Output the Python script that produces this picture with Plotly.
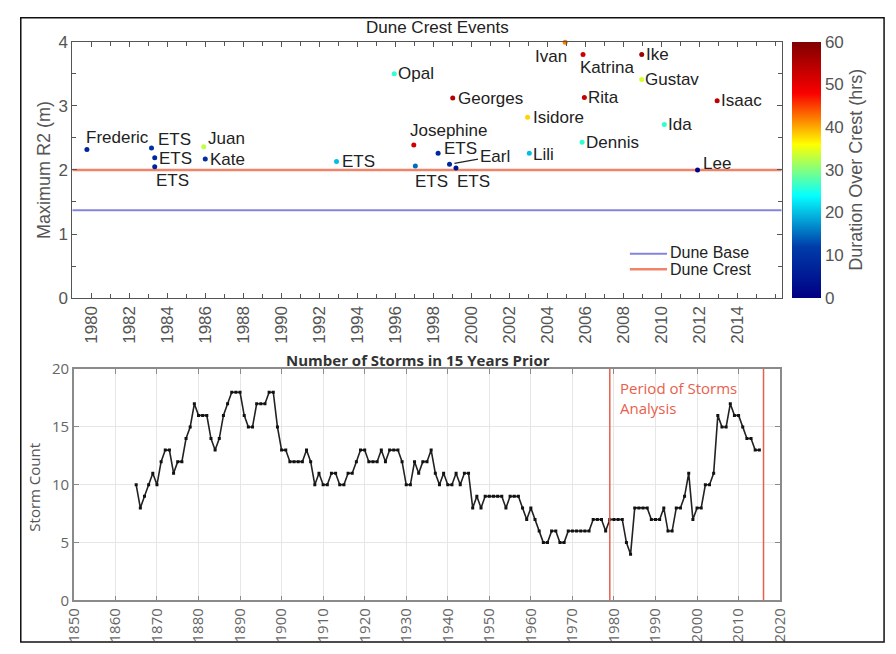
import plotly.graph_objects as go

W, H = 896, 654

# ---- Dune crest events (top panel) ----
event_names = ["Frederic", "ETS", "ETS", "ETS", "Juan", "Kate", "ETS", "Opal",
               "Josephine", "ETS", "ETS", "Earl", "Georges", "ETS", "Isidore",
               "Lili", "Ivan", "Katrina", "Rita", "Dennis", "Ike", "Gustav",
               "Ida", "Lee", "Isaac"]
event_time = [1979.77, 1983.17, 1983.34, 1983.34, 1985.92, 1986.00, 1992.91,
              1995.95, 1996.98, 1997.06, 1998.26, 1998.86, 1999.03, 1999.20,
              2002.97, 2003.06, 2004.95, 2005.89, 2005.96, 2005.84, 2008.98,
              2008.98, 2010.17, 2011.92, 2012.95]
max_r2 = [2.32, 2.34, 2.19, 2.05, 2.36, 2.17, 2.13, 3.50, 2.39, 2.06, 2.26,
          2.09, 3.12, 2.03, 2.82, 2.26, 3.99, 3.80, 3.13, 2.43, 3.80, 3.41,
          2.71, 2.00, 3.08]
duration_hrs = [7, 10, 8, 7, 33, 9, 20, 26, 52, 15, 8, 8, 55, 4, 38, 20, 42,
                52, 53, 26, 57, 34, 26, 1, 54]
dune_base = 1.37
dune_crest = 2.0
year_ticks = list(range(1980, 2015, 2))

# ---- Storms in the 15 years prior (bottom panel) ----
count_years = list(range(1865, 2016))
storm_count = [
    10, 8, 9, 10, 11, 10, 12, 13, 13, 11,      # 1865-1874
    12, 12, 14, 15, 17, 16, 16, 16, 14, 13,    # 1875-1884
    14, 16, 17, 18, 18, 18, 16, 15, 15, 17,    # 1885-1894
    17, 17, 18, 18, 15, 13, 13, 12, 12, 12,    # 1895-1904
    12, 13, 12, 10, 11, 10, 10, 11, 11, 10,    # 1905-1914
    10, 11, 11, 12, 13, 13, 12, 12, 12, 13,    # 1915-1924
    12, 13, 13, 13, 12, 10, 10, 12, 11, 12,    # 1925-1934
    12, 13, 11, 10, 11, 10, 10, 11, 10, 11,    # 1935-1944
    11, 8, 9, 8, 9, 9, 9, 9, 9, 8,             # 1945-1954
    9, 9, 9, 8, 7, 8, 7, 6, 5, 5,              # 1955-1964
    6, 6, 5, 5, 6, 6, 6, 6, 6, 6,              # 1965-1974
    7, 7, 7, 6, 7, 7, 7, 7, 5, 4,              # 1975-1984
    8, 8, 8, 8, 7, 7, 7, 8, 6, 6,              # 1985-1994
    8, 8, 9, 11, 7, 8, 8, 10, 10, 11,          # 1995-2004
    16, 15, 15, 17, 16, 16, 15, 14, 14, 13,    # 2005-2014
    13,                                        # 2015
]
period_start, period_end = 1979, 2016

# label placement around each event marker: (anchor, x shift px, y shift px)
label_place = [
    ("left", -2, 12), ("left", 5, 9), ("left", 3, -1), ("left", 0, -14),
    ("left", 3, 8), ("left", 4, 0), ("left", 4, 0), ("left", 3, 0),
    ("left", -5, 14), ("left", -1, -15), ("left", 5, 5), None,
    ("left", 4, 0), ("left", 0, -13), ("left", 4, 0), ("left", 3, -1),
    ("right", 3, -14), ("left", -4, -13), ("left", 3, 0), ("left", 3, 0),
    ("left", 3, 0), ("left", 2, 0), ("left", 3, 0), ("left", 4, 6),
    ("left", 3, 0),
]

TOP_FONT = "Liberation Sans, Arial, sans-serif"
BOT_FONT = "Open Sans, sans-serif"
BASE_COLOR = "#8583dc"
CREST_COLOR = "#f0846a"
RED = "#e8604c"
LABEL_SIZE = 17


def px(xp):
    return xp / W


def py(yp):
    return 1 - yp / H


fig = go.Figure()

x_top = [1979, 2016.35]
fig.add_trace(go.Scatter(x=x_top, y=[dune_base, dune_base], mode="lines",
                         line=dict(color=BASE_COLOR, width=2),
                         xaxis="x", yaxis="y", showlegend=False, hoverinfo="skip"))
fig.add_trace(go.Scatter(x=x_top, y=[dune_crest, dune_crest], mode="lines",
                         line=dict(color=CREST_COLOR, width=2.5),
                         xaxis="x", yaxis="y", showlegend=False, hoverinfo="skip"))

fig.add_trace(go.Scatter(
    x=event_time, y=max_r2, mode="markers", text=event_names, cliponaxis=False,
    marker=dict(size=5, color=duration_hrs, colorscale="Jet", cmin=0, cmax=60,
                showscale=True,
                colorbar=dict(
                    x=px(799), xanchor="left", y=py(31.7), yanchor="top",
                    len=265 / H, lenmode="fraction", thickness=29,
                    thicknessmode="pixels", xpad=0, ypad=0, outlinewidth=0,
                    tickvals=[0, 10, 20, 30, 40, 50, 60], ticks="",
                    tickfont=dict(family=TOP_FONT, size=17, color="#555"),
                    title=dict(text="Duration Over Crest (hrs)", side="right",
                               font=dict(family=TOP_FONT, size=18, color="#555")))),
    xaxis="x", yaxis="y", showlegend=False))

fig.add_trace(go.Scatter(
    x=count_years, y=storm_count, mode="lines+markers",
    line=dict(color="#222", width=1.6),
    marker=dict(color="#111", size=3, symbol="square"),
    xaxis="x2", yaxis="y2", showlegend=False))

annotations = []
for name, t, r, place in zip(event_names, event_time, max_r2, label_place):
    if place is None:
        annotations.append(dict(
            x=t, y=r, xref="x", yref="y", text=name, showarrow=True,
            ax=45, ay=-8, arrowhead=0, arrowwidth=1.3, arrowcolor="#222",
            standoff=5, font=dict(family=TOP_FONT, size=LABEL_SIZE, color="#222")))
        continue
    anchor, dx, dy = place
    annotations.append(dict(
        x=t, y=r, xref="x", yref="y", text=name, showarrow=False,
        xanchor=anchor, yanchor="middle", xshift=dx, yshift=dy, borderpad=0,
        font=dict(family=TOP_FONT, size=LABEL_SIZE, color="#222")))

annotations += [
    dict(x=px(436), y=py(17), xref="paper", yref="paper", text="Dune Crest Events",
         showarrow=False, xanchor="center", yanchor="middle",
         font=dict(family=TOP_FONT, size=17, color="#222")),
    dict(x=px(33), y=py(164), xref="paper", yref="paper", text="Maximum R2 (m)",
         showarrow=False, textangle=-90, xanchor="center", yanchor="middle",
         font=dict(family=TOP_FONT, size=18, color="#555")),
    dict(x=px(673), y=py(249.5), xref="paper", yref="paper", text="Dune Base",
         showarrow=False, xanchor="left", yanchor="middle", borderpad=0,
         font=dict(family=TOP_FONT, size=16, color="#222")),
    dict(x=px(673), y=py(267.5), xref="paper", yref="paper", text="Dune Crest",
         showarrow=False, xanchor="left", yanchor="middle", borderpad=0,
         font=dict(family=TOP_FONT, size=16, color="#222")),
    dict(x=px(416), y=py(361), xref="paper", yref="paper",
         text="<b>Number of Storms in 15 Years Prior</b>",
         showarrow=False, xanchor="center", yanchor="middle",
         font=dict(family=BOT_FONT, size=15, color="#333")),
    dict(x=px(24), y=py(492), xref="paper", yref="paper", text="Storm Count",
         showarrow=False, textangle=-90, xanchor="center", yanchor="middle",
         font=dict(family=BOT_FONT, size=15, color="#555")),
    dict(x=period_start, y=0.874, xref="x2", yref="y2 domain",
         text="Period of Storms<br>Analysis", showarrow=False, align="left",
         xanchor="left", yanchor="middle", xshift=8,
         font=dict(family=BOT_FONT, size=15, color=RED)),
]

shapes = [
    dict(type="line", xref="paper", yref="paper", x0=px(633), x1=px(671),
         y0=py(250.7), y1=py(250.7), line=dict(color=BASE_COLOR, width=2)),
    dict(type="line", xref="paper", yref="paper", x0=px(633), x1=px(671),
         y0=py(266.7), y1=py(266.7), line=dict(color=CREST_COLOR, width=2.5)),
    dict(type="line", xref="x2", yref="y2 domain", x0=period_start, x1=period_start,
         y0=0, y1=1, line=dict(color=RED, width=1.5)),
    dict(type="line", xref="x2", yref="y2 domain", x0=period_end, x1=period_end,
         y0=0, y1=1, line=dict(color=RED, width=1.5)),
    dict(type="rect", xref="paper", yref="paper", x0=px(10), x1=px(893),
         y0=py(652), y1=py(7), line=dict(color="#111", width=1.5)),
]

top_axis = dict(showline=True, linecolor="#555", linewidth=1, mirror="ticks",
                ticks="inside", ticklen=5, tickcolor="#555", showgrid=False,
                zeroline=False, tickfont=dict(family=TOP_FONT, size=17, color="#555"))
bot_axis = dict(showline=True, linecolor="#8a8a8a", linewidth=1.5, mirror="ticks",
                ticks="inside", ticklen=5, tickcolor="#8a8a8a", showgrid=True,
                gridcolor="#e6e6e6", gridwidth=1, zeroline=False,
                tickfont=dict(family=BOT_FONT, size=15, color="#666"))

fig.update_layout(
    width=W, height=H, margin=dict(l=0, r=0, t=0, b=0),
    paper_bgcolor="white", plot_bgcolor="white",
    xaxis=dict(domain=[px(62.7), px(788.3)], anchor="y", range=x_top,
               tickvals=year_ticks, tickangle=-90,
               minor=dict(dtick=1, tick0=1979, ticks="inside", ticklen=4,
                          tickcolor="#555"),
               **top_axis),
    yaxis=dict(domain=[py(296.7), py(31.7)], anchor="x", range=[0, 4], dtick=1,
               minor=dict(dtick=0.5, ticks="inside", ticklen=4, tickcolor="#555"),
               **top_axis),
    xaxis2=dict(domain=[px(64.3), px(786.7)], anchor="y2", range=[1850, 2020],
                tick0=1850, dtick=10, tickangle=-90, **bot_axis),
    yaxis2=dict(domain=[py(609), py(370)], anchor="x2", range=[0, 20], dtick=5,
                **bot_axis),
    annotations=annotations, shapes=shapes,
)

fig.write_html("out.html")
